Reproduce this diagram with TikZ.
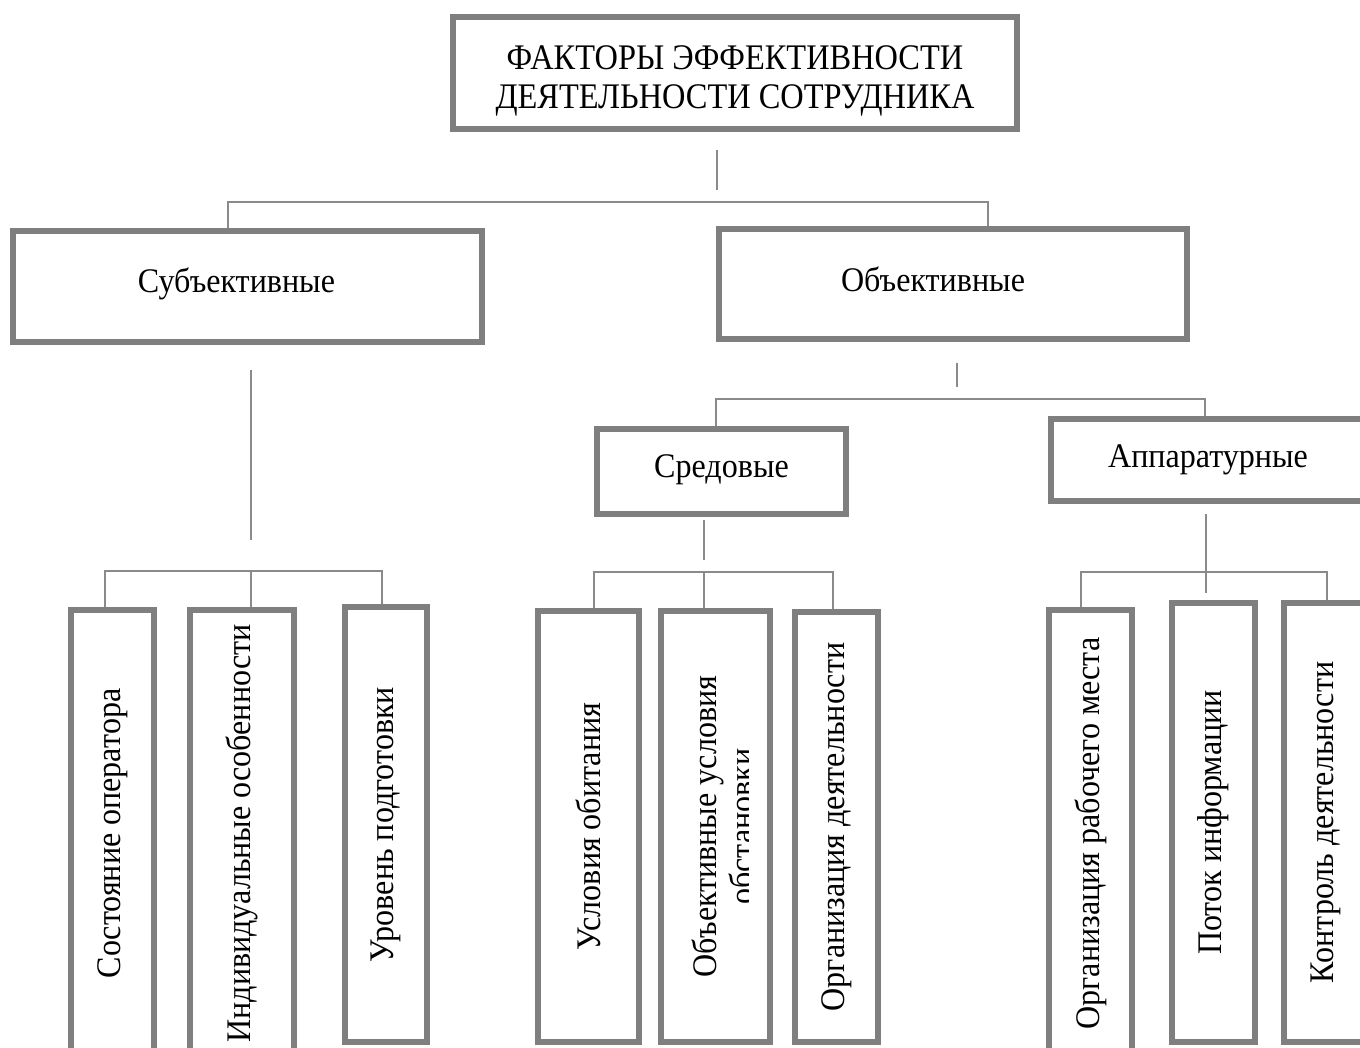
\documentclass[tikz,border=0pt]{standalone}
\usepackage{fontspec}
\setmainfont{Liberation Serif}[FakeStretch=0.93]
\newfontfamily\titlefont{Liberation Serif}[FakeStretch=0.9]
\begin{document}
\begin{tikzpicture}[x=1pt,y=-1pt,
  box/.style={draw=boxgray,line width=6pt,inner sep=0pt,font=\fontsize{34.5}{38}\selectfont,text=black},
  vbox/.style={box,rotate=90},
  conn/.style={draw=linegray,line width=2pt}]
\definecolor{boxgray}{HTML}{7F7F7F}
\definecolor{linegray}{HTML}{8A8A8A}
\useasboundingbox[fill=white] (0,0) rectangle (1360,1048);
% top
\node[box,minimum width=564pt,minimum height=112pt,align=center,font=\titlefont\fontsize{36}{38}\selectfont] (title) at (735,73) {\raisebox{-14.5pt}[0pt][0pt]{\begin{tabular}{@{}c@{}}ФАКТОРЫ ЭФФЕКТИВНОСТИ\\[0.5pt]ДЕЯТЕЛЬНОСТИ СОТРУДНИКА\end{tabular}}};
\node[box,minimum width=469pt,minimum height=111pt] (subj) at (247.5,286.5) {\raisebox{12pt}{\hspace*{-22pt}Субъективные}};
\node[box,minimum width=468pt,minimum height=110pt] (obj) at (953,284) {\hspace*{-40pt}\raisebox{10pt}{Объективные}};
\node[box,minimum width=249pt,minimum height=85pt] (sred) at (721.5,471.5) {\raisebox{11pt}{Средовые}};
\node[box,minimum width=314pt,minimum height=82pt] (app) at (1208,460) {\raisebox{-3pt}{Аппаратурные}};
% bottom boxes (rotated: width = vertical extent)
\node[vbox,minimum width=447pt,minimum height=83pt] (b1) at (112.5,833.5) {Состояние оператора};
\node[vbox,minimum width=447pt,minimum height=104pt] (b2) at (242,833.5) {Индивидуальные особенности};
\node[vbox,minimum width=435pt,minimum height=82pt] (b3) at (386,824.5) {Уровень подготовки};
\node[vbox,minimum width=431pt,minimum height=101pt] (b4) at (588.5,826.5) {Условия обитания};
\node[vbox,minimum width=431pt,minimum height=109pt] (b5) at (715.5,826.5) {};
\node[vbox,minimum width=430pt,minimum height=83pt] (b6) at (836.5,827) {Организация деятельности};
\node[vbox,minimum width=447pt,minimum height=83pt] (b7) at (1090.5,833.5) {Организация рабочего места};
\node[vbox,minimum width=439pt,minimum height=83pt] (b8) at (1213.5,822.5) {Поток информации};
\node[vbox,minimum width=439pt,minimum height=83pt] (b9) at (1325.5,822.5) {Контроль деятельности};
\begin{scope}
\clip (660,611) rectangle (748,1042);
\node[rotate=90,align=center,inner sep=0pt,font=\fontsize{34.5}{37}\selectfont] (b5text) at (723,826.5) {Объективные условия\\обстановки};
\end{scope}
% connectors
\coordinate (ts1) at (717,150); \coordinate (ts2) at (717,190);
\coordinate (h1a) at (228,202); \coordinate (h1b) at (988,202);
\draw[conn] (ts1) -- (ts2);
\draw[conn] (h1a |- subj.north) -- (h1a) -- (h1b) -- (h1b |- obj.north);
\coordinate (ss1) at (251,370); \coordinate (ss2) at (251,540);
\draw[conn] (ss1) -- (ss2);
\coordinate (h2a) at (105,571); \coordinate (h2m) at (251,571); \coordinate (h2b) at (382,571);
\draw[conn] (h2a |- b1.east) -- (h2a) -- (h2b) -- (h2b |- b3.east);
\draw[conn] (h2m) -- (h2m |- b2.east);
\coordinate (os1) at (957,363); \coordinate (os2) at (957,387);
\draw[conn] (os1) -- (os2);
\coordinate (h3a) at (716,399); \coordinate (h3b) at (1205,399);
\draw[conn] (h3a |- sred.north) -- (h3a) -- (h3b) -- (h3b |- app.north);
\coordinate (sd1) at (704,520); \coordinate (sd2) at (704,560);
\draw[conn] (sd1) -- (sd2);
\coordinate (h4a) at (594,572); \coordinate (h4m) at (704,572); \coordinate (h4b) at (833,572);
\draw[conn] (h4a |- b4.east) -- (h4a) -- (h4b) -- (h4b |- b6.east);
\draw[conn] (h4m) -- (h4m |- b5.east);
\coordinate (ap1) at (1206,514); \coordinate (ap2) at (1206,593);
\draw[conn] (ap1) -- (ap2);
\coordinate (h5a) at (1081,572); \coordinate (h5b) at (1327,572);
\draw[conn] (h5a |- b7.east) -- (h5a) -- (h5b) -- (h5b |- b9.east);
\end{tikzpicture}
\end{document}
